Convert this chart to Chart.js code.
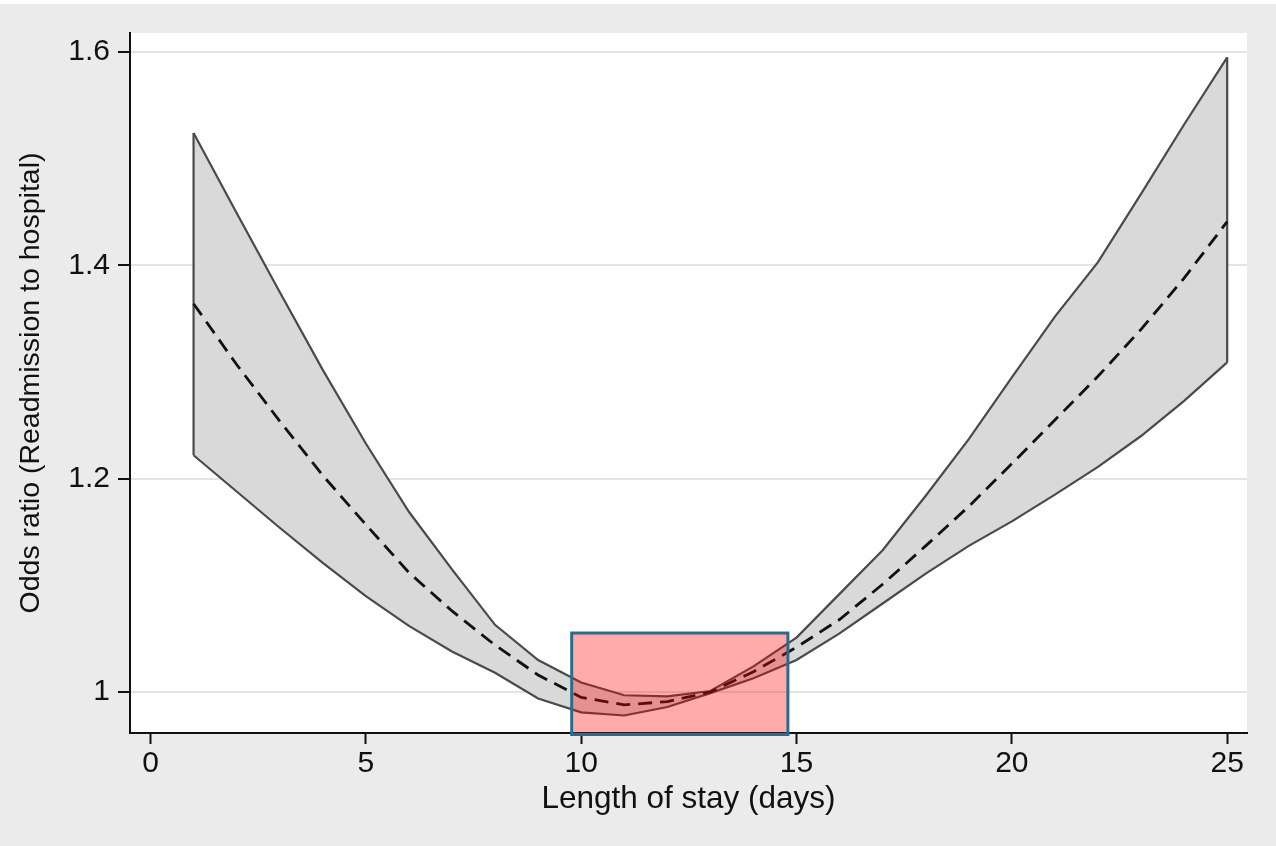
<!DOCTYPE html>
<html>
<head>
<meta charset="utf-8">
<title>Odds ratio by length of stay</title>
<script src="https://cdn.jsdelivr.net/npm/chart.js@4.4.1/dist/chart.umd.min.js"></script>
<style>
  html, body { margin: 0; padding: 0; background: #ebebeb; }
  canvas { display: block; }
</style>
</head>
<body>
<canvas id="orChart" width="1276" height="846"></canvas>
<script>
'use strict';

// Length of stay (days) and the fitted odds ratio with its 95% band
const days       = [1, 2, 3, 4, 5, 6, 7, 8, 9, 10, 11, 12, 13, 14, 15, 16, 17, 18, 19, 20, 21, 22, 23, 24, 25];
const orEstimate = [1.364, 1.307, 1.254, 1.203, 1.157, 1.112, 1.076, 1.044, 1.016, 0.995, 0.988, 0.991, 1.000,
                    1.019, 1.042, 1.068, 1.101, 1.137, 1.174, 1.214, 1.255, 1.296, 1.340, 1.388, 1.441];
const ciUpper    = [1.524, 1.449, 1.375, 1.302, 1.233, 1.169, 1.115, 1.063, 1.030, 1.009, 0.997, 0.996, 1.001,
                    1.024, 1.051, 1.092, 1.133, 1.184, 1.237, 1.295, 1.352, 1.403, 1.467, 1.532, 1.595];
const ciLower    = [1.222, 1.188, 1.154, 1.121, 1.090, 1.062, 1.038, 1.018, 0.994, 0.981, 0.978, 0.986, 0.999,
                    1.013, 1.030, 1.055, 1.083, 1.111, 1.137, 1.160, 1.185, 1.211, 1.240, 1.273, 1.309];

// Axis ticks
const xTickValues = [0, 5, 10, 15, 20, 25];
const yTickValues = [1, 1.2, 1.4, 1.6];

// Highlighted window of lowest risk (days, odds ratio)
const highlightDays = [9.78, 14.8];
const highlightOR   = [0.9602, 1.0553];

const FONT = "'Liberation Sans', Arial, Helvetica, sans-serif";

const pts = ys => days.map((d, i) => ({ x: d, y: ys[i] }));
const last = days.length - 1;

// ---------------------------------------------------------------------------
// Plugins
// ---------------------------------------------------------------------------

const backdrop = {
  id: 'backdrop',
  beforeDraw(chart) {
    const { ctx, chartArea: a } = chart;
    ctx.save();
    ctx.fillStyle = '#ffffff';
    ctx.fillRect(0, 0, chart.width, chart.height);
    ctx.fillStyle = '#ebebeb';
    ctx.fillRect(0, 4, chart.width, chart.height - 4);
    ctx.fillStyle = '#ffffff';
    ctx.fillRect(a.left, a.top, a.right - a.left, a.bottom - a.top);
    ctx.restore();
  },
};

const highlightBox = {
  id: 'highlightBox',
  afterDraw(chart) {
    const { ctx, scales: { x, y } } = chart;
    const x0 = x.getPixelForValue(highlightDays[0]);
    const x1 = x.getPixelForValue(highlightDays[1]);
    const y0 = y.getPixelForValue(highlightOR[1]);
    const y1 = y.getPixelForValue(highlightOR[0]);
    ctx.save();
    ctx.fillStyle = 'rgba(255, 0, 0, 0.33)';
    ctx.fillRect(x0, y0, x1 - x0, y1 - y0);
    ctx.strokeStyle = '#2a6d8b';
    ctx.lineWidth = 3;
    ctx.strokeRect(x0, y0, x1 - x0, y1 - y0);
    ctx.restore();
  },
};

// ---------------------------------------------------------------------------
// Chart
// ---------------------------------------------------------------------------

const bandLine = { borderColor: '#4a4a4a', borderWidth: 2.2, pointRadius: 0, tension: 0 };

new Chart(document.getElementById('orChart'), {
  type: 'line',
  data: {
    datasets: [
      {
        label: 'Odds ratio',
        data: pts(orEstimate),
        borderColor: '#111111',
        borderWidth: 2.8,
        borderDash: [14, 8],
        pointRadius: 0,
        fill: false,
      },
      { ...bandLine, label: 'Upper 95% CI', data: pts(ciUpper), fill: '+1', backgroundColor: '#d9d9d9' },
      { ...bandLine, label: 'Lower 95% CI', data: pts(ciLower), fill: false },
      { ...bandLine, label: 'start', data: [{ x: days[0], y: ciLower[0] }, { x: days[0], y: ciUpper[0] }], fill: false },
      { ...bandLine, label: 'end', data: [{ x: days[last], y: ciLower[last] }, { x: days[last], y: ciUpper[last] }], fill: false },
    ],
  },
  options: {
    responsive: false,
    animation: false,
    layout: { padding: { top: 33, right: 29, left: 0, bottom: 0 } },
    plugins: {
      legend: { display: false },
      tooltip: { enabled: false },
      filler: { drawTime: 'beforeDatasetsDraw' },
    },
    scales: {
      x: {
        type: 'linear',
        min: -0.476,
        max: 25.46,
        afterFit: s => { s.height = 113; },
        afterBuildTicks: s => { s.ticks = xTickValues.map(v => ({ value: v })); },
        border: { color: '#111111', width: 2 },
        grid: { drawOnChartArea: false, drawTicks: true, tickLength: 11, tickColor: '#111111', tickWidth: 2 },
        ticks: { color: '#111111', padding: 2, maxRotation: 0, font: { family: FONT, size: 30 } },
        title: {
          display: true,
          text: 'Length of stay (days)',
          color: '#111111',
          font: { family: FONT, size: 31.5 },
          padding: { top: 0, bottom: 28 },
        },
      },
      y: {
        min: 0.9616,
        max: 1.6178,
        afterFit: s => { s.width = 130; },
        afterBuildTicks: s => { s.ticks = yTickValues.map(v => ({ value: v })); },
        border: { color: '#111111', width: 2 },
        grid: { color: '#e4e4e4', lineWidth: 2, drawTicks: true, tickLength: 12, tickColor: '#111111', tickWidth: 2 },
        ticks: { color: '#111111', padding: 8, font: { family: FONT, size: 30 }, callback: v => String(v) },
        title: {
          display: true,
          text: 'Odds ratio (Readmission to hospital)',
          color: '#111111',
          font: { family: FONT, size: 28.5 },
          padding: { top: 14, bottom: 0 },
        },
      },
    },
  },
  plugins: [backdrop, highlightBox],
});
</script>
</body>
</html>
